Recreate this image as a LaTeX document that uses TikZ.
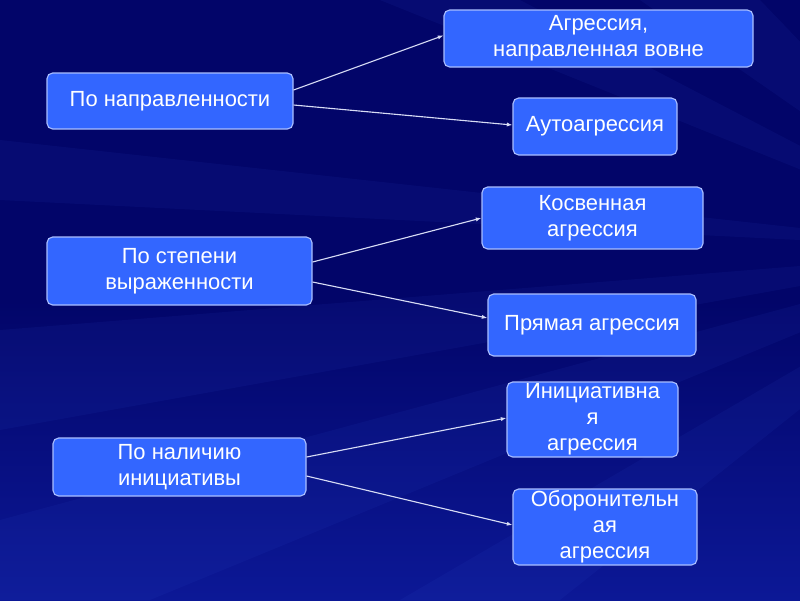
\documentclass[tikz,border=0pt]{standalone}
\usepackage{fontspec}
\setmainfont{Liberation Sans}
\usetikzlibrary{calc,arrows.meta}

\definecolor{bgdark}{RGB}{2,5,105}
\definecolor{bgmid}{RGB}{12,24,150}
\definecolor{bglight}{RGB}{50,80,210}
\definecolor{boxfill}{RGB}{51,102,255}
\definecolor{boxline}{RGB}{170,190,255}
\definecolor{linkcol}{RGB}{215,220,245}

\begin{document}
\begin{tikzpicture}[x=0.025cm, y=-0.025cm]

\tikzset{
  kind/.style={draw=boxline, line width=0.8pt, fill=boxfill, rounded corners=4pt, inner sep=0pt,
    text=white, align=center, font=\fontsize{15.6}{18.5}\selectfont},
  link/.style={draw=linkcol, line width=0.8pt, -{Latex[length=4pt,width=3pt]}},
  ray/.style={fill=bglight, opacity=0.09},
}

% background
\shade[top color=bgdark, bottom color=bgmid, middle color=bgdark] (0,0) rectangle (800,600);
\useasboundingbox (0,0) rectangle (800,600);
\begin{scope}
\clip (0,0) rectangle (800,600);
\fill[ray] (1000,250) -- (380,0) -- (520,0) -- cycle;
\fill[ray] (1000,250) -- (640,0) -- (760,0) -- cycle;
\fill[ray] (1000,250) -- (0,330) -- (0,430) -- cycle;
\fill[ray] (1000,250) -- (0,520) -- (0,600) -- (150,600) -- cycle;
\fill[ray] (1000,250) -- (400,600) -- (560,600) -- cycle;
\fill[ray] (1000,250) -- (0,140) -- (0,200) -- cycle;
\end{scope}

% categories
\node[kind, minimum width=246*0.025cm, minimum height=56*0.025cm, name=dir] at (170,101) {По направленности};
\node[kind, minimum width=265*0.025cm, minimum height=68*0.025cm, name=degree] at (179.5,271) {По степени\\выраженности};
\node[kind, minimum width=253*0.025cm, minimum height=58*0.025cm, name=init] at (179.5,467) {По наличию\\инициативы};

% kinds
\node[kind, minimum width=309*0.025cm, minimum height=57*0.025cm, name=outward] at (598.5,38.5) {Агрессия,\\направленная вовне};
\node[kind, minimum width=164*0.025cm, minimum height=57*0.025cm, name=auto] at (595,126.5) {Аутоагрессия};
\node[kind, minimum width=221*0.025cm, minimum height=62*0.025cm, name=indirect] at (592.5,218) {Косвенная\\агрессия};
\node[kind, minimum width=208*0.025cm, minimum height=62*0.025cm, name=direct] at (592,325) {Прямая агрессия};
\node[kind, minimum width=171*0.025cm, minimum height=75*0.025cm, name=active] at (592.5,419.5) {Инициативна\\я\\агрессия};
\node[kind, minimum width=184*0.025cm, minimum height=76*0.025cm, name=defence] at (605,527) {Оборонительн\\ая\\агрессия};

\draw[link] ($(dir.east)+(0,-11)$) -- ($(outward.west)+(0,-3)$);
\draw[link] ($(dir.east)+(0,4)$) -- ($(auto.west)+(0,-1.5)$);
\draw[link] ($(degree.east)+(0,-9)$) -- (indirect.west);
\draw[link] ($(degree.east)+(0,11)$) -- ($(direct.west)+(0,-7)$);
\draw[link] ($(init.east)+(0,-10)$) -- ($(active.west)+(0,-1.5)$);
\draw[link] ($(init.east)+(0,9)$) -- ($(defence.west)+(0,-2)$);

\end{tikzpicture}
\end{document}
